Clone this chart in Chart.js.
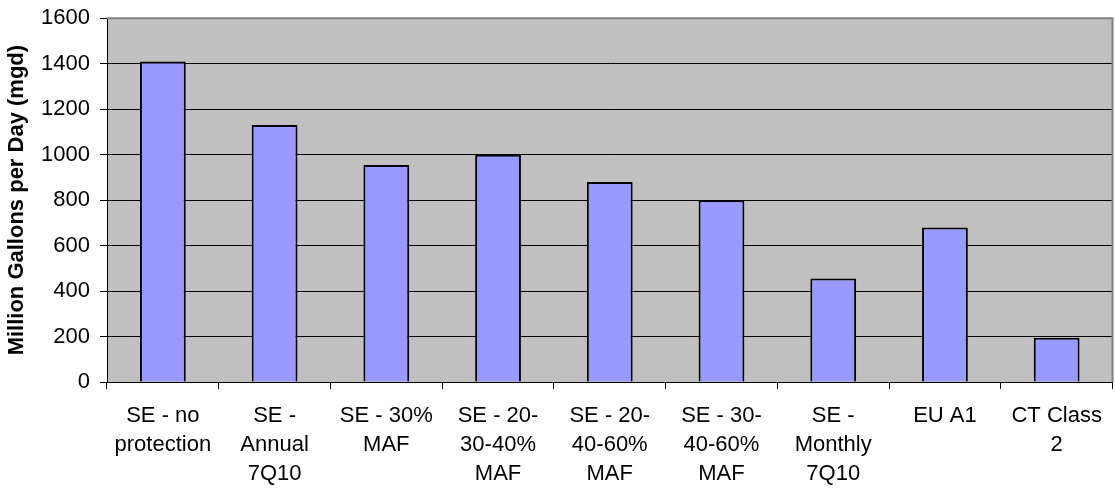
<!DOCTYPE html>
<html>
<head>
    <meta charset="UTF-8">
    <title>Million Gallons per Day</title>
    <script src="https://cdn.jsdelivr.net/npm/chart.js"></script>
    <style>
        body { margin: 0; background: #fff; }
        #wrap { width: 1115px; height: 493px; }
    </style>
</head>
<body>
<div id="wrap"><canvas id="chart"></canvas></div>

<script>
    // categories (multi-line labels)
    var categories = [
        ["SE - no", "protection"],
        ["SE -", "Annual", "7Q10"],
        ["SE - 30%", "MAF"],
        ["SE - 20-", "30-40%", "MAF"],
        ["SE - 20-", "40-60%", "MAF"],
        ["SE - 30-", "40-60%", "MAF"],
        ["SE -", "Monthly", "7Q10"],
        ["EU A1"],
        ["CT Class", "2"]
    ];
    // values in mgd
    var values = [1410, 1130, 955, 1000, 880, 800, 455, 680, 195];
    var yMin = 0, yMax = 1600, yStep = 200;

    var fontFamily = 'Liberation Sans, Arial, sans-serif';

    // gray plot background and gray top/right border
    var plotArea = {
        id: 'plotArea',
        beforeDraw: function (chart) {
            var a = chart.chartArea, c = chart.ctx;
            c.save();
            c.fillStyle = '#C0C0C0';
            c.fillRect(a.left, a.top, a.right - a.left, a.bottom - a.top);
            c.restore();
        },
        afterDraw: function (chart) {
            var a = chart.chartArea, c = chart.ctx;
            c.save();
            c.strokeStyle = '#808080';
            c.lineWidth = 2;
            c.beginPath();
            c.moveTo(a.left, a.top);
            c.lineTo(a.right, a.top);
            c.lineTo(a.right, a.bottom);
            c.stroke();
            c.restore();
        }
    };

    var ctx = document.getElementById("chart").getContext("2d");
    var chart = new Chart(ctx, {
        type: 'bar',
        data: {
            labels: categories,
            datasets: [{
                data: values,
                backgroundColor: '#9999FF',
                borderColor: '#000000',
                borderWidth: 2,
                categoryPercentage: 1.0,
                barPercentage: 0.41
            }]
        },
        plugins: [plotArea],
        options: {
            responsive: true,
            maintainAspectRatio: false,
            animation: false,
            layout: { padding: { left: 0, top: 9, right: 2, bottom: 0 } },
            plugins: {
                legend: { display: false },
                tooltip: { enabled: false }
            },
            scales: {
                x: {
                    afterFit: function (scale) { scale.height = 111; },
                    grid: {
                        offset: true,
                        drawOnChartArea: false,
                        drawTicks: true,
                        tickLength: 7,
                        color: '#000000'
                    },
                    border: { color: '#000000', width: 1 },
                    ticks: {
                        color: '#000000',
                        font: { family: fontFamily, size: 22, lineHeight: 1.3 },
                        maxRotation: 0,
                        minRotation: 0,
                        autoSkip: false,
                        padding: 13
                    }
                },
                y: {
                    min: yMin,
                    max: yMax,
                    afterFit: function (scale) { scale.width = 107; },
                    grid: {
                        color: '#000000',
                        lineWidth: 1,
                        tickLength: 7
                    },
                    border: { color: '#000000', width: 1 },
                    ticks: {
                        stepSize: yStep,
                        color: '#000000',
                        font: { family: fontFamily, size: 22, lineHeight: 0.75 },
                        padding: 10,
                        callback: function (v) { return String(v); }
                    },
                    title: {
                        display: true,
                        text: 'Million Gallons per Day (mgd)',
                        color: '#000000',
                        font: { family: fontFamily, size: 22, weight: 'bold' },
                        padding: { top: 4, bottom: 0 }
                    }
                }
            }
        }
    });
</script>
</body>
</html>
